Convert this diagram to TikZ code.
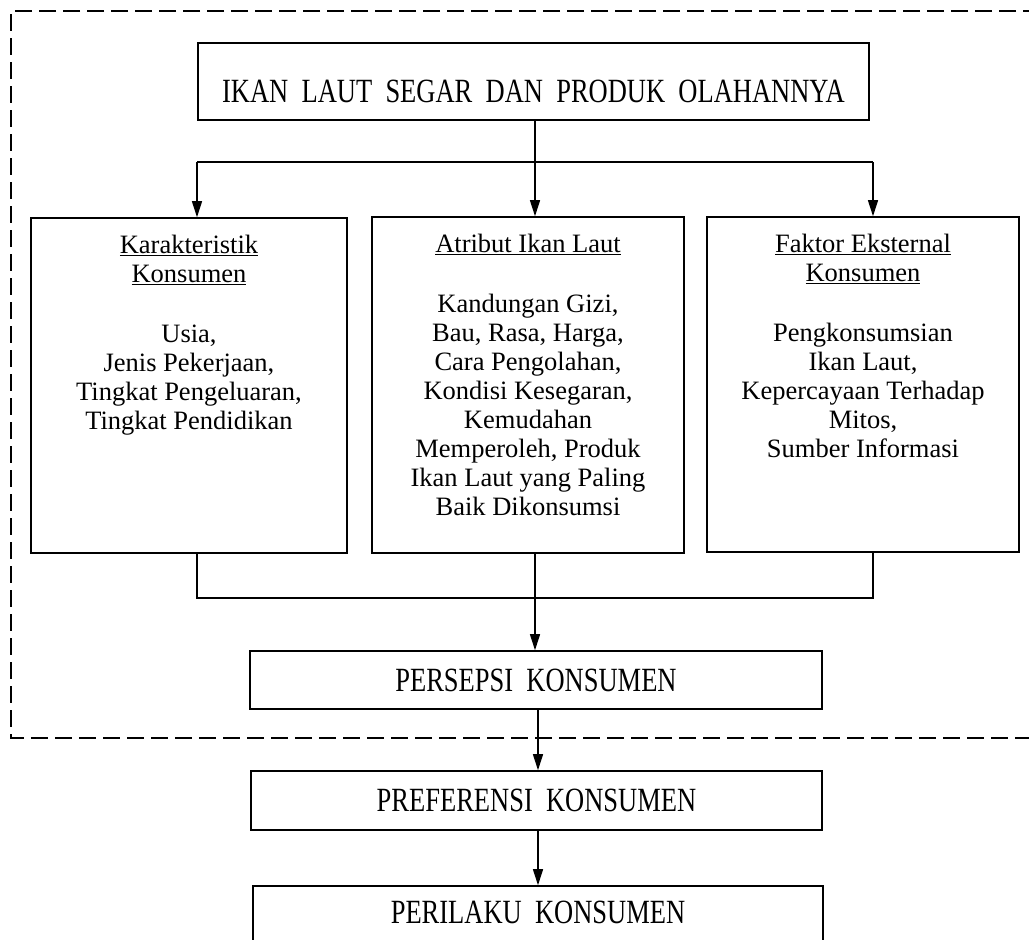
\documentclass[tikz,border=0pt]{standalone}
\usepackage{fontspec}
\setmainfont{Liberation Serif}
\usepackage{graphicx}
\usetikzlibrary{arrows.meta,calc}
\newcommand{\capsline}[1]{\scalebox{1}[1.28]{#1}}
\newcommand{\wsp}{\hspace{0.5em}}
\begin{document}
\begin{tikzpicture}[x=1pt,y=-1pt,
  boxst/.style={draw,rectangle,line width=1.6pt,inner sep=0pt},
  txt/.style={inner sep=0pt,align=center,font=\fontsize{26.5}{29}\selectfont},
  conn/.style={line width=1.2pt},
  arr/.style={line width=1.2pt,-{Triangle[width=10pt,length=16pt]}},
  frame/.style={line width=1.4pt,dash pattern=on 17pt off 7pt}]
\useasboundingbox (0,0) rectangle (1029,940);
\clip (0,0) rectangle (1029,940);

% dashed frame
\draw[frame] (1040,11) -- (11,11) -- (11,738) -- (1040,738);

% boxes
\node[boxst,minimum width=671pt,minimum height=77pt] (top) at (533.5,81.5) {};
\node[boxst,minimum width=316pt,minimum height=335pt] (K) at (189,385.5) {};
\node[boxst,minimum width=312pt,minimum height=336pt] (A) at (528,385) {};
\node[boxst,minimum width=312pt,minimum height=335pt] (F) at (863,384.5) {};
\node[boxst,minimum width=572pt,minimum height=58pt] (P1) at (536,680) {};
\node[boxst,minimum width=571pt,minimum height=59pt] (P2) at (536.5,800.5) {};
\node[boxst,minimum width=570pt,minimum height=74pt] (P3) at (538,923) {};

% texts
\node[txt,anchor=base] (toptext) at ($(top.center)+(0,20.5)$)
  {\capsline{IKAN\wsp LAUT\wsp SEGAR\wsp DAN\wsp PRODUK\wsp OLAHANNYA}};
\node[txt,anchor=north] (Ktext) at ($(K.north)+(0,17.5)$)
  {\underline{Karakteristik}\\\underline{Konsumen}\\[31pt]
   Usia,\\Jenis Pekerjaan,\\Tingkat Pengeluaran,\\Tingkat Pendidikan};
\node[txt,anchor=north] (Atext) at ($(A.north)+(0,17.5)$)
  {\underline{Atribut Ikan Laut}\\[31pt]
   Kandungan Gizi,\\Bau, Rasa, Harga,\\Cara Pengolahan,\\Kondisi Kesegaran,\\
   Kemudahan\\Memperoleh, Produk\\Ikan Laut yang Paling\\Baik Dikonsumsi};
\node[txt,anchor=north] (Ftext) at ($(F.north)+(0,17.5)$)
  {\underline{Faktor Eksternal}\\\underline{Konsumen}\\[31pt]
   Pengkonsumsian\\Ikan Laut,\\Kepercayaan Terhadap\\Mitos,\\Sumber Informasi};
\node[txt] (P1text) at (P1.center) {\capsline{PERSEPSI\wsp KONSUMEN}};
\node[txt] (P2text) at (P2.center) {\capsline{PREFERENSI\wsp KONSUMEN}};
\node[txt] (P3text) at ($(P3.north)+(0,27)$) {\capsline{PERILAKU\wsp KONSUMEN}};

% connectors
\coordinate (cx) at (535,0);
\coordinate (cx2) at (538,0);
\coordinate (jl) at (197,162);
\coordinate (jr) at (873,162);
\coordinate (bl) at (197,598);
\coordinate (br) at (873,598);

\draw[arr] (top.south -| cx) -- (A.north -| cx);
\draw[conn] (jl) -- (jr);
\draw[arr] (jl) -- (K.north -| jl);
\draw[arr] (jr) -- (F.north -| jr);
\draw[conn] (K.south -| bl) -- (bl) -- (br) -- (F.south -| br);
\draw[arr] (A.south -| cx) -- (P1.north -| cx);
\draw[arr] (P1.south -| cx2) -- (P2.north -| cx2);
\draw[arr] (P2.south -| cx2) -- (P3.north -| cx2);
\end{tikzpicture}
\end{document}
